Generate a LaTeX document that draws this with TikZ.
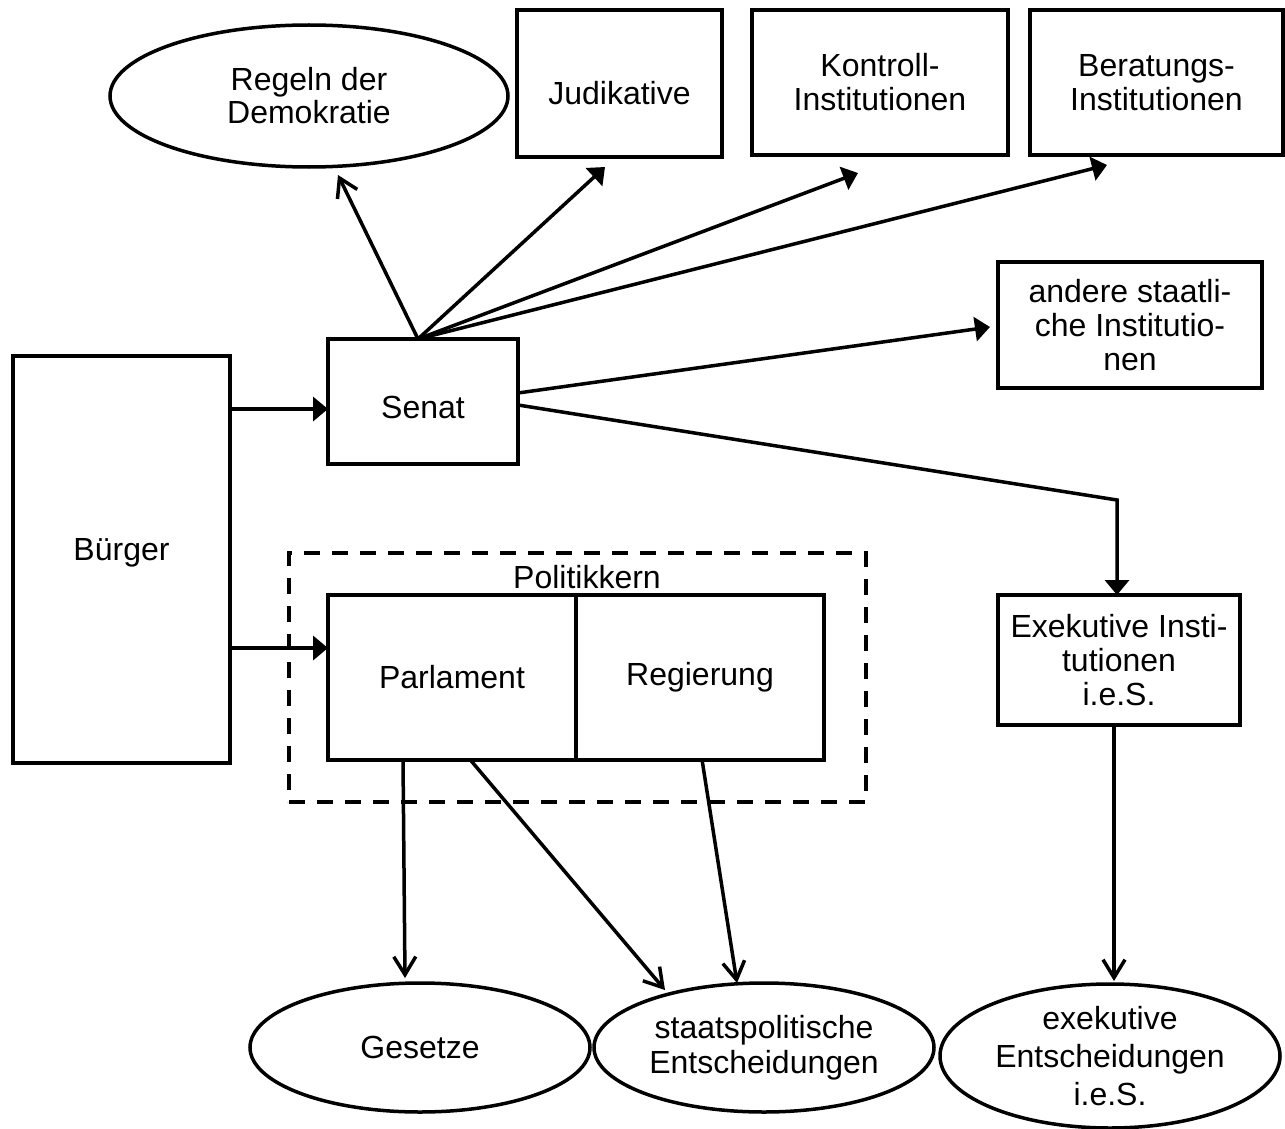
\documentclass[tikz,border=0pt]{standalone}
\usepackage{fontspec}
\setmainfont{Liberation Sans}
\usetikzlibrary{arrows.meta,shapes.geometric}

\begin{document}
\begin{tikzpicture}[x=1pt,y=-1pt]
\tikzstyle{box}=[draw,line width=4pt,inner sep=0pt,outer sep=0pt,align=center,font=\fontsize{32pt}{34pt}\selectfont]
\tikzstyle{oval}=[ellipse,draw,line width=3.5pt,inner sep=0pt,outer sep=0pt,align=center,font=\fontsize{32pt}{35pt}\selectfont]
\tikzstyle{arr}=[line width=3.5pt,-{Triangle[length=15pt,width=24pt]}]
\tikzstyle{arro}=[line width=3.5pt,-{Straight Barb[length=18pt,width=22pt]}]

\useasboundingbox (0,0) rectangle (1285,1129);

\node (Regeln) [oval,minimum width=398pt,minimum height=142pt,font=\fontsize{32pt}{33pt}\selectfont] at (309,96) {Regeln der\\Demokratie};
\node (Judikative) [box,minimum width=205pt,minimum height=147pt,text height=42pt,text depth=0pt] at (619.5,83.5) {Judikative};
\node (Kontroll) [box,minimum width=256pt,minimum height=145pt] at (880,82.5) {Kontroll-\\Institutionen};
\node (Beratungs) [box,minimum width=253pt,minimum height=145pt] at (1156.5,82.5) {Beratungs-\\Institutionen};
\node (Andere) [box,minimum width=264pt,minimum height=126pt] at (1130,325) {andere staatli-\\che Institutio-\\nen};

\node (Senat) [box,minimum width=190pt,minimum height=125pt,text height=33pt,text depth=0pt] at (423,401.5) {Senat};
\node (Buerger) [box,minimum width=217pt,minimum height=407pt,text height=23pt,text depth=22pt] at (121.5,559.5) {Bürger};

\node (Kern) [draw,line width=4pt,dash pattern=on 16pt off 12pt,minimum width=577pt,minimum height=249pt,outer sep=0pt] at (577.5,677.5) {};
\node (KernLabel) [inner sep=0pt,font=\fontsize{32pt}{34pt}\selectfont] at (587,577) {Politikkern};
\node (Parlament) [box,minimum width=248pt,minimum height=165pt] at (452,677) {Parlament};
\node (Regierung) [box,minimum width=248pt,minimum height=165pt,anchor=west] at (Parlament.east) {Regierung};

\node (Exekutive) [box,minimum width=242pt,minimum height=130pt] at (1119,660) {Exekutive Insti-\\tutionen\\i.e.S.};

\node (Gesetze) [oval,minimum width=340pt,minimum height=129pt] at (420,1047.5) {Gesetze};
\node (Staats) [oval,minimum width=340pt,minimum height=129pt] at (764,1047.5) {staatspolitische\\Entscheidungen};
\node (Exek) [oval,minimum width=340pt,minimum height=144pt,font=\fontsize{32pt}{38pt}\selectfont] at (1110,1056) {exekutive\\Entscheidungen\\i.e.S.};

\draw [arr] ([yshift=-7.5pt]Senat.west -| Buerger.east) -- ([yshift=-7.5pt]Senat.west);
\draw [arr] ([yshift=29pt]Parlament.west -| Buerger.east) -- ([yshift=29pt]Parlament.west);

\draw [arro] ([xshift=-5pt]Senat.north) -- ([xshift=29pt,yshift=-8pt]Regeln.south);
\draw [arr] ([xshift=-5pt]Senat.north) -- ([xshift=-14.5pt,yshift=-10pt]Judikative.south);
\draw [arr] ([xshift=-5pt]Senat.north) -- ([xshift=-22pt,yshift=-18pt]Kontroll.south);
\draw [arr] ([xshift=-5pt]Senat.north) -- ([xshift=-49.5pt,yshift=-10pt]Beratungs.south);
\draw [arr] ([yshift=8.5pt]Senat.east) -- ([xshift=-8pt,yshift=-2pt]Andere.west);
\draw [arr] ([yshift=-3.5pt]Senat.east) -- ([xshift=-2pt,yshift=95pt]Exekutive.north) -- ([xshift=-2pt]Exekutive.north);

\draw [arro] ([xshift=-49pt]Parlament.south) -- ([xshift=-15pt,yshift=5pt]Gesetze.north);
\draw [arro] ([xshift=18pt]Parlament.south) -- ([xshift=-99pt,yshift=-7pt]Staats.north);
\draw [arro] ([xshift=2pt]Regierung.south) -- ([xshift=-27pt]Staats.north);
\draw [arro] ([xshift=-5pt]Exekutive.south) -- ([xshift=4pt,yshift=3pt]Exek.north);

\end{tikzpicture}
\end{document}
